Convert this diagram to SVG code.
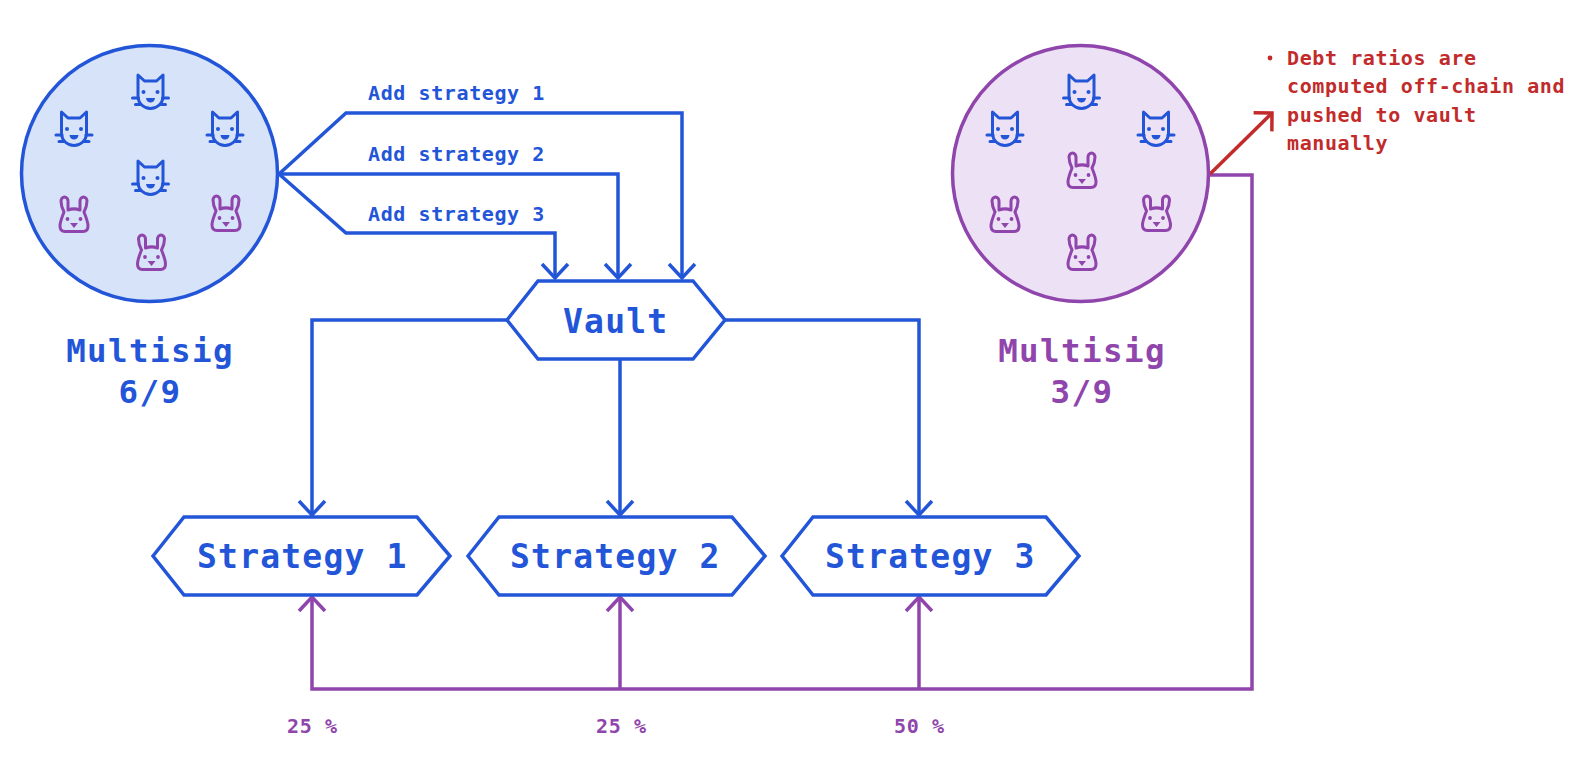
<svg xmlns="http://www.w3.org/2000/svg" width="1594" height="768" viewBox="0 0 1594 768">
<style>
text{font-family:"DejaVu Sans Mono","Liberation Mono",monospace;font-weight:700}
.blue{fill:#2355D8}.purple{fill:#8F45AC}.red{fill:#C22B2B}
.big{font-size:33px;letter-spacing:1.2px}
.mid{font-size:32.5px;letter-spacing:1.4px;text-anchor:middle}
.sm{font-size:20px;letter-spacing:.6px;font-weight:600}
.note{font-size:20px;letter-spacing:.6px}
.hex{fill:#fff;stroke:#2355D8;stroke-width:3.5;stroke-linejoin:miter}
.c{fill:none;stroke-width:3.5;stroke-linejoin:miter}
.cb{stroke:#2355D8}.cp{stroke:#8F45AC}.cr{stroke:#C22B2B}
.ic{fill:none;stroke-width:3;stroke-linecap:round;stroke-linejoin:round}
</style>
<defs>
<marker id="ab" markerUnits="userSpaceOnUse" markerWidth="32" markerHeight="32" refX="16" refY="16" orient="auto" overflow="visible"><path d="M2,3 L16,16 L2,29" fill="none" stroke="#2355D8" stroke-width="3.5"/></marker>
<marker id="ap" markerUnits="userSpaceOnUse" markerWidth="32" markerHeight="32" refX="16" refY="16" orient="auto" overflow="visible"><path d="M2,3 L16,16 L2,29" fill="none" stroke="#8F45AC" stroke-width="3.5"/></marker>
<marker id="ar" markerUnits="userSpaceOnUse" markerWidth="32" markerHeight="32" refX="16" refY="16" orient="auto" overflow="visible"><path d="M3,3 L16,16 L3,29" fill="none" stroke="#C22B2B" stroke-width="3.5"/></marker>
<g id="cat">
<path class="ic" stroke="#2355D8" d="M-12.5,-18 L-6,-12 H6 L12.5,-18 V3 C12.5,11 6,15.5 0,15.5 C-6,15.5 -12.5,11 -12.5,3 Z"/>
<path class="ic" stroke="#2355D8" d="M-18,5 H-12 M-15,11.5 H-10 M18,5 H12 M15,11.5 H10"/>
<circle cx="-7" cy="-1" r="2" fill="#2355D8"/><circle cx="7" cy="-1" r="2" fill="#2355D8"/>
<path d="M-4.5,5 H4.5 C4,11 -4,11 -4.5,5 Z" fill="#2355D8"/>
</g>
<g id="rabbit">
<path class="ic" stroke="#8F45AC" d="M-10,-2 C-12,-6 -13,-9 -13,-13 A3.5,4 0 0 1 -6,-13 L-6,-4 M6,-4 L6,-13 A3.5,4 0 0 1 13,-13 C13,-9 12,-6 10,-2 M-10,-2 C-12,3 -14,8 -14,12 C-14,16 -12,17.5 -9,17.5 H9 C12,17.5 14,16 14,12 C14,8 12,3 10,-2 M-6,-4 C-2,-5.5 2,-5.5 6,-4"/>
<circle cx="-6.5" cy="5" r="1.9" fill="#8F45AC"/><circle cx="6.5" cy="5" r="1.9" fill="#8F45AC"/>
<path d="M-4,9 H4 L0,14 Z" fill="#8F45AC"/>
</g>
</defs>
<rect width="1594" height="768" fill="#fff"/>
<g id="connectors">
<path class="c cb" marker-end="url(#ab)" d="M279,174 L346,113 H682 V278"/>
<path class="c cb" marker-end="url(#ab)" d="M279,174 H618 V278"/>
<path class="c cb" marker-end="url(#ab)" d="M279,174 L346,233 H555 V278"/>
<path class="c cb" marker-end="url(#ab)" d="M507,320 H312 V515"/>
<path class="c cb" marker-end="url(#ab)" d="M620,359 V515"/>
<path class="c cb" marker-end="url(#ab)" d="M725,320 H919 V515"/>
<path class="c cp" marker-end="url(#ap)" d="M1210,175 H1252 V689 H312 V597"/>
<path class="c cp" marker-end="url(#ap)" d="M620,689 V597"/>
<path class="c cp" marker-end="url(#ap)" d="M919,689 V597"/>
<path class="c cr" marker-end="url(#ar)" d="M1210,174 L1272,113"/>
</g>
<text class="sm blue" x="368" y="100">Add strategy 1</text>
<text class="sm blue" x="368" y="161">Add strategy 2</text>
<text class="sm blue" x="368" y="221">Add strategy 3</text>
<text class="sm purple" x="287" y="733">25 %</text>
<text class="sm purple" x="596" y="733">25 %</text>
<text class="sm purple" x="894" y="733">50 %</text>
<g id="multisig-blue">
<circle cx="149.5" cy="173.5" r="128" fill="#D6E3F9" stroke="#2355D8" stroke-width="3.5"/>
<use href="#cat" x="150.5" y="93"/><use href="#cat" x="74" y="130"/><use href="#cat" x="225" y="130"/><use href="#cat" x="150.5" y="179"/>
<use href="#rabbit" x="74" y="214"/><use href="#rabbit" x="226" y="213"/><use href="#rabbit" x="151.5" y="252"/>
<text class="mid blue" x="150" y="362">Multisig</text>
<text class="mid blue" x="150" y="403">6/9</text>
</g>
<g id="multisig-purple">
<circle cx="1080.5" cy="173.5" r="128" fill="#EDE1F5" stroke="#8F45AC" stroke-width="3.5"/>
<use href="#cat" x="1081.5" y="93"/><use href="#cat" x="1005" y="130"/><use href="#cat" x="1156" y="130"/>
<use href="#rabbit" x="1082" y="170"/><use href="#rabbit" x="1005" y="214"/><use href="#rabbit" x="1156.5" y="213"/><use href="#rabbit" x="1082" y="252"/>
<text class="mid purple" x="1082" y="362">Multisig</text>
<text class="mid purple" x="1082" y="403">3/9</text>
</g>
<g id="vault">
<polygon class="hex" points="507,320 538,281 693,281 725,320 693,359 538,359"/>
<text class="big blue" x="563" y="333">Vault</text>
</g>
<g id="strategy-1">
<polygon class="hex" points="153,556 184,517 417,517 450,556 417,595 184,595"/>
<text class="big blue" x="197" y="568">Strategy 1</text>
</g>
<g id="strategy-2">
<polygon class="hex" points="468,556 499,517 732,517 765,556 732,595 499,595"/>
<text class="big blue" x="510" y="568">Strategy 2</text>
</g>
<g id="strategy-3">
<polygon class="hex" points="782,556 813,517 1046,517 1079,556 1046,595 813,595"/>
<text class="big blue" x="825" y="568">Strategy 3</text>
</g>
<g id="note">
<circle cx="1270" cy="58" r="2.4" fill="#C22B2B"/>
<text class="note red" x="1287" y="65">Debt ratios are</text>
<text class="note red" x="1287" y="93">computed off-chain and</text>
<text class="note red" x="1287" y="122">pushed to vault</text>
<text class="note red" x="1287" y="150">manually</text>
</g>
</svg>
